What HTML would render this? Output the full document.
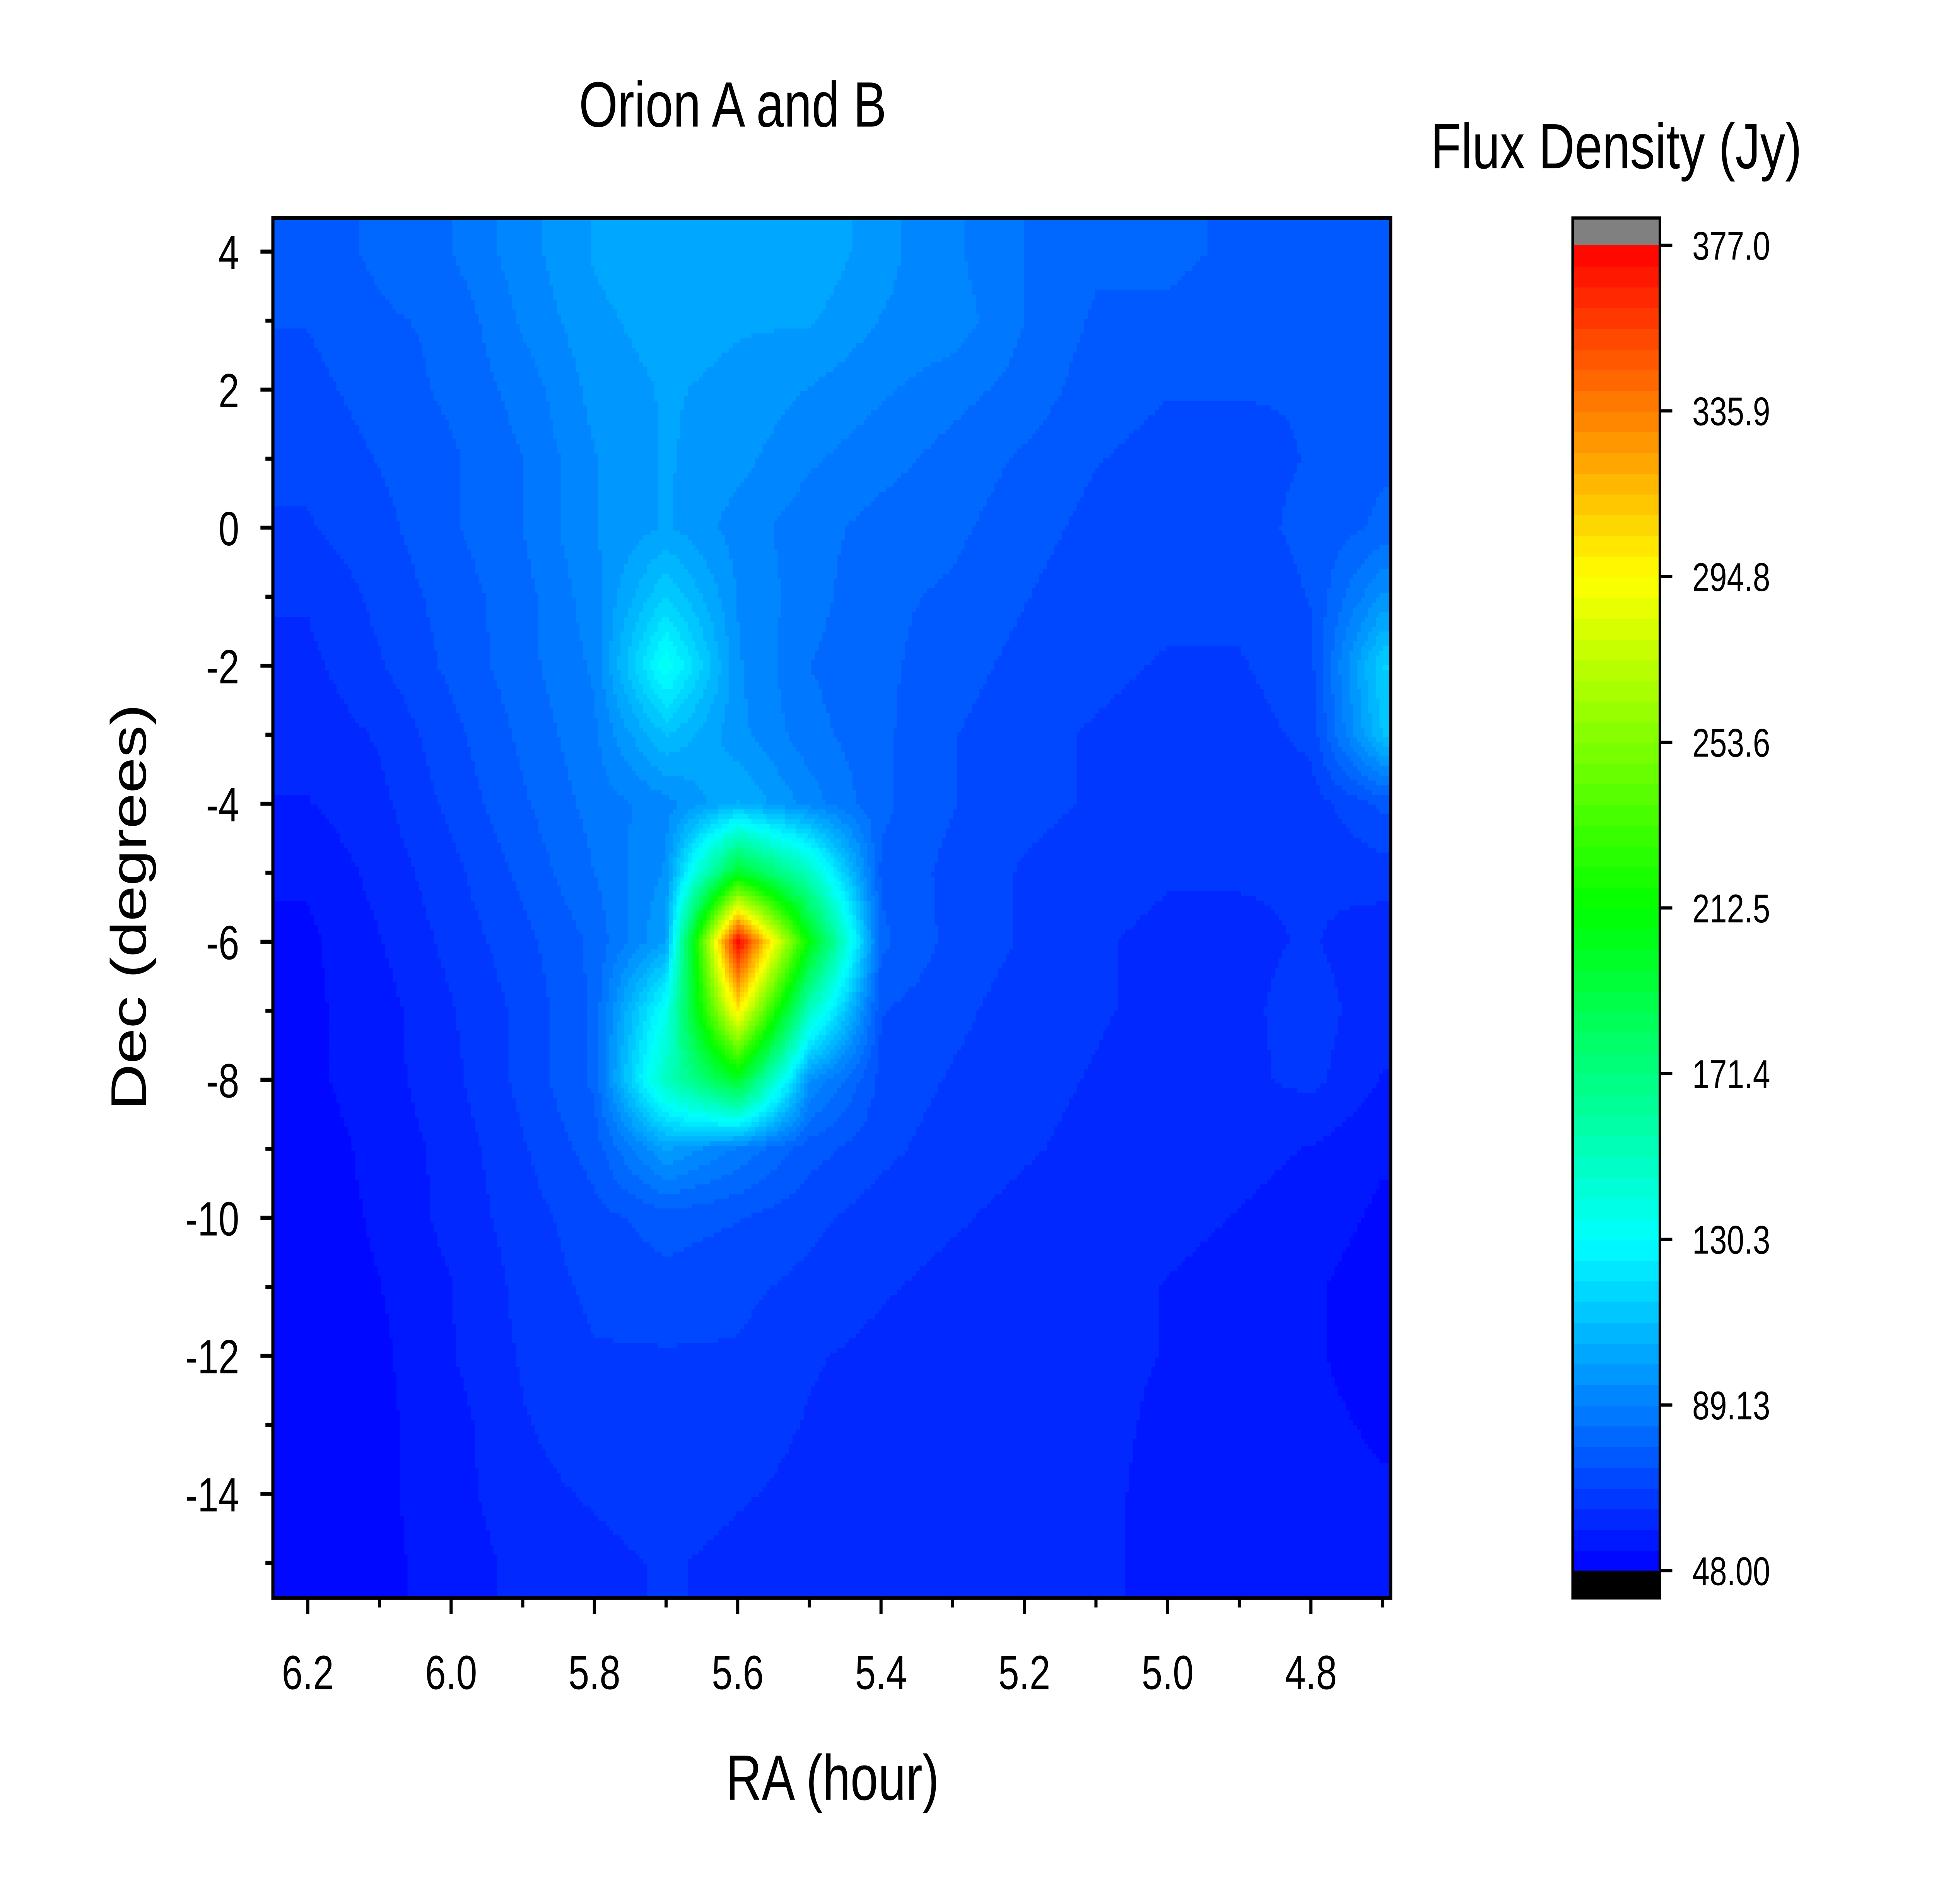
<!DOCTYPE html>
<html><head><meta charset="utf-8">
<style>
html,body{margin:0;padding:0;background:#fff;width:100%;height:100%;overflow:hidden;}
svg{display:block;font-family:"Liberation Sans",Arial,sans-serif;width:100vw;height:100vh;}
</style></head>
<body>
<svg id="chart" viewBox="0 0 1552 1188" preserveAspectRatio="none" xmlns="http://www.w3.org/2000/svg">
<rect x="0" y="0" width="1552" height="1188" fill="#fff"/>
<text x="588" y="79" font-size="40" text-anchor="middle">Orion A and B</text>
<text x="1297" y="105" font-size="40" text-anchor="middle">Flux Density (Jy)</text>
<text x="668" y="1123" font-size="40" text-anchor="middle">RA (hour)</text>
<text transform="translate(117,566) rotate(-90)" font-size="40" text-anchor="middle">Dec (degrees)</text>
<g id="heat"></g>
<rect x="219" y="136" width="897" height="861" fill="none" stroke="#000" stroke-width="2.5"/>
<g id="xticks"></g>
<g id="yticks"></g>
<g id="cbar"></g>
</svg>
<script>
const raCols = [6.2,6.1,6.0,5.9,5.8,5.7,5.6,5.5,5.4,5.3,5.2,5.1,5.0,4.9,4.8,4.7];
const decRows = [4,3,2,1,0,-1,-2,-3,-4,-5,-6,-7,-8,-9,-10,-11,-12,-13,-14,-15];
const flux = [
[76,80,84,92,100,104,102,104,96,90,84,80,80,78,76,76],
[74,78,80,90,98,102,100,100,94,92,84,78,78,76,75,75],
[72,76,80,86,96,100,98,94,90,86,82,76,74,74,74,76],
[70,74,78,84,94,100,96,90,86,82,78,74,72,72,74,78],
[68,72,78,84,94,100,92,86,82,80,76,72,72,72,75,80],
[64,70,76,82,92,115,94,86,80,78,74,70,70,70,74,95],
[62,68,75,82,90,135,95,84,80,76,72,70,68,68,72,115],
[60,64,72,80,88,110,96,86,80,74,70,68,66,66,70,110],
[58,62,70,78,86,92,105,92,80,74,70,68,66,64,66,75],
[54,60,67,75,84,95,200,150,78,72,68,66,64,64,64,66],
[52,58,65,72,80,100,377,210,80,72,68,64,62,62,64,60],
[52,56,63,70,80,135,300,150,74,70,66,64,62,62,66,60],
[52,56,62,70,80,150,200,95,72,68,65,63,60,62,65,58],
[50,55,60,68,76,100,88,76,70,66,64,62,60,60,58,54],
[50,54,60,66,72,76,74,70,66,64,62,60,60,58,56,52],
[50,53,58,65,70,72,70,67,64,62,62,60,58,56,54,50],
[50,52,58,64,68,68,68,64,62,60,60,60,58,56,54,50],
[50,52,56,63,66,68,66,63,61,60,60,60,57,56,55,52],
[50,52,56,62,64,66,64,62,60,60,60,60,56,56,56,54],
[50,52,55,60,62,64,62,60,60,60,60,60,56,56,56,54]
];
const xTickLabels = ["6.2","6.0","5.8","5.6","5.4","5.2","5.0","4.8"];
const yTickLabels = ["4","2","0","-2","-4","-6","-8","-10","-12","-14"];
const cbarLabels = ["377.0","335.9","294.8","253.6","212.5","171.4","130.3","89.13","48.00"];
const vmin = 48, vmax = 377, nLevels = 64;

const NS = "http://www.w3.org/2000/svg";
const PX0 = 219, PX1 = 1116, PY0 = 136, PY1 = 997;
function xScale(ra){ return 247 + (6.2 - ra) * 575; }
function yScale(dec){ return 157 + (4 - dec) * 43.06; }
function raAt(x){ return 6.2 - (x - 247) / 575; }
function decAt(y){ return 4 - (y - 157) / 43.06; }
function mk(tag, attrs, parent){
  const e = document.createElementNS(NS, tag);
  for (const k in attrs) e.setAttribute(k, attrs[k]);
  parent.appendChild(e); return e;
}
function colorFor(v){
  let t = (v - vmin) / (vmax - vmin);
  t = Math.max(0, Math.min(0.9999, t));
  t = (Math.floor(t * nLevels) + 0.5) / nLevels;
  const stops = [[0,0,255],[0,255,255],[0,255,0],[255,255,0],[255,0,0]];
  const s = t * 4, i = Math.min(3, Math.floor(s)), f = s - i;
  const a = stops[i], b = stops[i+1];
  return "rgb(" + a.map((c,k)=>Math.round(c + (b[k]-c)*f)).join(",") + ")";
}
function valueAt(ra, dec){
  const step = raCols[0] - raCols[1];
  let c = (raCols[0] - ra) / step; c = Math.max(0, Math.min(raCols.length - 1, c));
  let r = (decRows[0] - dec) / (decRows[0] - decRows[1]); r = Math.max(0, Math.min(decRows.length - 1, r));
  const c0 = Math.min(raCols.length - 2, Math.floor(c)), r0 = Math.min(decRows.length - 2, Math.floor(r));
  const fc = c - c0, fr = r - r0;
  const v00 = flux[r0][c0], v01 = flux[r0][c0+1], v10 = flux[r0+1][c0], v11 = flux[r0+1][c0+1];
  return (v00*(1-fc) + v01*fc)*(1-fr) + (v10*(1-fc) + v11*fc)*fr;
}
const heat = document.getElementById("heat");
const step = 3;
for (let y = PY0; y < PY1; y += step) {
  let runStart = PX0, runCol = null;
  for (let x = PX0; x <= PX1; x += step) {
    const col = x < PX1 ? colorFor(valueAt(raAt(x + step/2), decAt(y + step/2))) : null;
    if (col !== runCol) {
      if (runCol !== null) {
        const w = Math.min(Math.min(x, PX1) - runStart + 0.6, PX1 - runStart);
        const h = Math.min(step + 0.6, PY1 - y);
        const r = mk("rect", {x: runStart, y: y, width: w, height: h, fill: runCol}, heat);
        
        
      }
      runStart = x; runCol = col;
    }
  }
}
const xg = document.getElementById("xticks");
xTickLabels.forEach(lbl => {
  const x = xScale(parseFloat(lbl));
  const l = mk("line", {x1: x, y1: PY1, x2: x, y2: PY1 + 10, stroke: "#000", "stroke-width": 2.5}, xg);
  
  
  const t = mk("text", {x: x, y: 1054, "font-size": 30, "text-anchor": "middle"}, xg);
  t.textContent = lbl;
  
  
});
for (let ra = 6.1; ra > 4.65; ra -= 0.2) {
  const x = xScale(ra);
  const l = mk("line", {x1: x, y1: PY1, x2: x, y2: PY1 + 6, stroke: "#000", "stroke-width": 2.5}, xg);
  
  
}
const yg = document.getElementById("yticks");
yTickLabels.forEach(lbl => {
  const y = yScale(parseFloat(lbl));
  const l = mk("line", {x1: PX0 - 10, y1: y, x2: PX0, y2: y, stroke: "#000", "stroke-width": 2.5}, yg);
  
  
  const t = mk("text", {x: 192, y: y + 11, "font-size": 30, "text-anchor": "end"}, yg);
  t.textContent = lbl;
  
  
});
for (let d = 3; d >= -15; d -= 2) {
  const y = yScale(d);
  const l = mk("line", {x1: PX0 - 6, y1: y, x2: PX0, y2: y, stroke: "#000", "stroke-width": 2.5}, yg);
  
  
}
const cb = document.getElementById("cbar");
const CX = 1262, CW = 70, CT = 153, CB = 980;
const bh = (CB - CT) / nLevels;
for (let i = 0; i < nLevels; i++) {
  const v = vmin + (i + 0.5) * (vmax - vmin) / nLevels;
  const r = mk("rect", {x: CX, y: CB - (i + 1) * bh, width: CW, height: bh + 0.5, fill: colorFor(v)}, cb);
  
  
}
let r1 = mk("rect", {x: CX, y: 136, width: CW, height: CT - 136, fill: "#808080"}, cb);


let r2 = mk("rect", {x: CX, y: CB, width: CW, height: 17, fill: "#000"}, cb);


let r3 = mk("rect", {x: CX, y: 136, width: CW, height: 861, fill: "none", stroke: "#000", "stroke-width": 2}, cb);


cbarLabels.forEach((lbl, i) => {
  const y = CT + i * (CB - CT) / (cbarLabels.length - 1);
  const l = mk("line", {x1: CX + CW, y1: y, x2: CX + CW + 10, y2: y, stroke: "#000", "stroke-width": 2}, cb);
  
  
  const t = mk("text", {x: 1358, y: y + 9, "font-size": 25}, cb);
  t.textContent = lbl;
  
  
});
</script>
</body></html>
